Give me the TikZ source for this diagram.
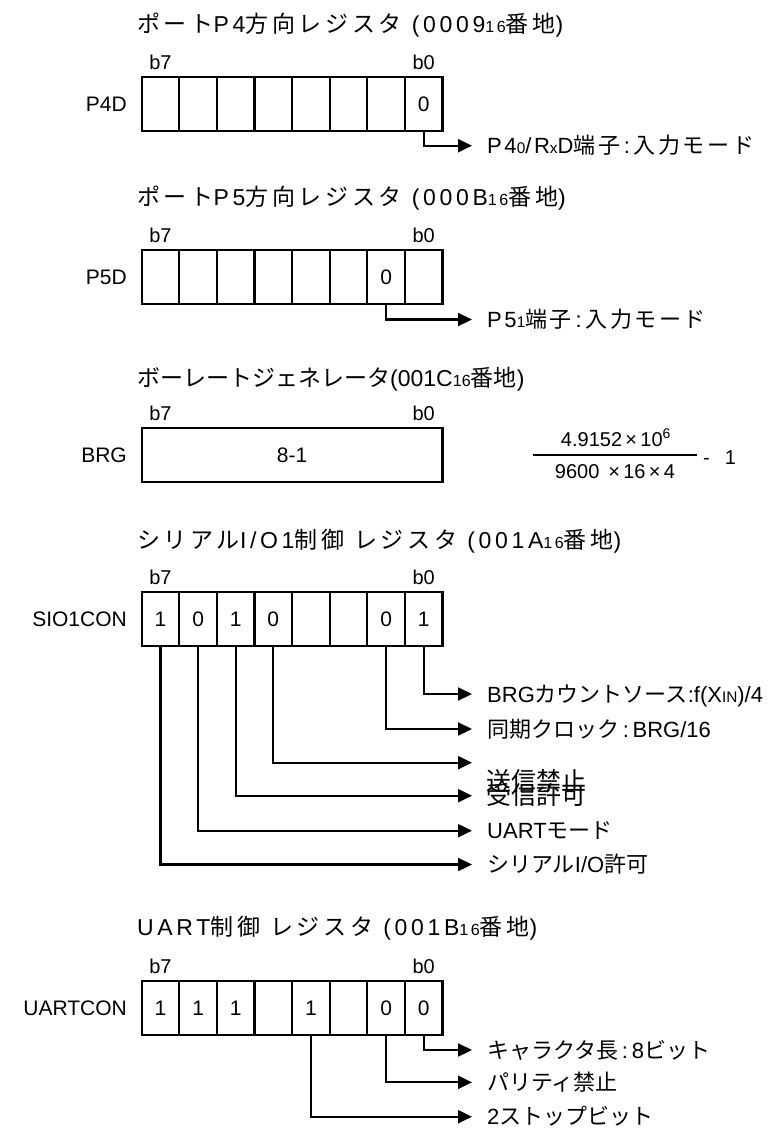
\documentclass[tikz,border=0pt]{standalone}
\usepackage{fontspec}
\setmainfont{Liberation Sans}
\newfontfamily\jpfont{Noto Sans CJK JP}
\newfontfamily\ttlfont[LetterSpace=16]{Liberation Sans}
\newfontfamily\ttljpfont[LetterSpace=16]{Noto Sans CJK JP}
\newfontfamily\widefont[LetterSpace=12]{Liberation Sans}
\newfontfamily\widejpfont[LetterSpace=12]{Noto Sans CJK JP}
\usetikzlibrary{arrows.meta}
\newcommand{\jp}[1]{{\jpfont #1}}
\newcommand{\lo}[1]{\scalebox{0.7}{#1}}
\tikzset{
  cell/.style={draw,line width=2.2pt,minimum width=37.6pt,minimum height=54pt,inner sep=0pt,outer sep=0pt,font=\fontsize{21}{24}\selectfont},
  bitno/.style={anchor=base,inner sep=0pt,font=\fontsize{20}{24}\selectfont},
  regname/.style={anchor=east,inner sep=0pt,font=\fontsize{21}{24}\selectfont},
  ttl/.style={anchor=base west,inner sep=0pt,font=\fontsize{23}{28}\selectfont\ttlfont\let\jpfont\ttljpfont},
  lbl/.style={anchor=base west,inner sep=0pt,font=\fontsize{22}{26}\selectfont},
  lblw/.style={lbl,font=\fontsize{22}{26}\selectfont\widefont\let\jpfont\widejpfont},
  frm/.style={anchor=base,inner sep=0pt,font=\fontsize{20}{24}\selectfont},
  conn/.style={line width=2.2pt,-{Triangle[length=14pt,width=13pt]}},
}
\newcommand{\regcells}[3]{%
  \foreach \v [count=\k from 0] in {#3}{%
    \pgfmathtruncatemacro{\bit}{7-\k}
    \node[cell](#1\bit)at({160.5+37.6*\k},{#2+27}){\v};
  }
  \node[bitno](#1b7)at({160.5},{#2-8}){b7};
  \node[bitno](#1b0)at({423.7},{#2-8}){b0};
}
\newcommand{\bitarrow}[5][lbl]{%
  \coordinate(#4e)at(472,#3);
  \node[#1](#4)at(487,{#3+8}){#5};
  \draw[conn](#2.south)|-(#4e);
}
\begin{document}
\begin{tikzpicture}[x=1pt,y=-1pt]
  \fill[white](0,0)rectangle(784,1128);
  \useasboundingbox(0,0)rectangle(784,1128);
  % port P4 direction
  \node[ttl](tp4)at(137,32.5){\jp{ポート}P4\jp{方向レジスタ} (0009\lo{16}\jp{番地})};
  \node[regname](p4d)at(127,104){P4D};
  \regcells{p4d}{77}{{},{},{},{},{},{},{},0}
  \bitarrow[lblw]{p4d0}{145.7}{p4o}{P4\lo{0}/R\lo{x}D\jp{端子}\,:\,\jp{入力モード}}
  % port P5 direction
  \node[ttl](tp5)at(137,205.5){\jp{ポート}P5\jp{方向レジスタ} (000B\lo{16}\jp{番地})};
  \node[regname](p5d)at(127,277){P5D};
  \regcells{p5d}{250}{{},{},{},{},{},{},0,{}}
  \bitarrow[lblw]{p5d1}{319.5}{p5o}{P5\lo{1}\jp{端子}\,:\,\jp{入力モード}}
  % baud rate generator
  \node[ttl,font=\fontsize{23}{28}\selectfont](tbrg)at(137,386.5){\jp{ボーレートジェネレータ}(001C\lo{16}\jp{番地})};
  \node[regname](brg)at(127,455){BRG};
  \node[cell,minimum width=300.8pt](brgbox)at(292.1,455){8-1};
  \node[bitno](brgb7)at(160.5,420){b7};
  \node[bitno](brgb0)at(423.7,420){b0};
  \node[frm](num)at(616,446.5){4.9152\,×\,10\textsuperscript{6}};
  \node[frm](den)at(615,478.5){9600\ \,×\,16\,×\,4};
  \coordinate(fl)at(533,455);\coordinate(fr)at(697,455);
  \draw[line width=2pt](fl)--(fr);
  \node[frm](minus)at(706.5,464){-};
  \node[frm](one)at(730.5,464){1};
  % serial I/O1 control
  \node[ttl](tsio)at(137,548.5){\jp{シリアル}I/O1\jp{制御} \jp{レジスタ} (001A\lo{16}\jp{番地})};
  \node[regname](sio)at(127,619.5){SIO1CON};
  \regcells{sio}{592}{1,0,1,0,{},{},0,1}
  \bitarrow{sio0}{694}{s0}{BRG\jp{カウントソース}:f(X\lo{IN})/4}
  \bitarrow{sio1}{729}{s1}{\jp{同期クロック}\,:\,BRG/16}
  \coordinate(s4e)at(472,762.7);
  \node[lbl,font=\fontsize{25}{30}\selectfont](s4)at(486,790.5){\jp{送信禁止}};
  \draw[conn](sio4.south)|-(s4e);
  \coordinate(s5e)at(472,795.7);
  \node[lbl,font=\fontsize{25}{30}\selectfont](s5)at(486,804.5){\jp{受信許可}};
  \draw[conn](sio5.south)|-(s5e);
  \bitarrow{sio6}{830.7}{s6}{UART\jp{モード}}
  \bitarrow{sio7}{864.5}{s7}{\jp{シリアル}I/O\jp{許可}}
  % UART control
  \node[ttl](tuart)at(137,935.5){UART\jp{制御} \jp{レジスタ} (001B\lo{16}\jp{番地})};
  \node[regname](uart)at(127,1008){UARTCON};
  \regcells{uart}{981}{1,1,1,{},1,{},0,0}
  \bitarrow{uart0}{1050}{u0}{\jp{キャラクタ長}\,:\,8\jp{ビット}}
  \bitarrow{uart1}{1082.3}{u1}{\jp{パリティ禁止}}
  \bitarrow{uart3}{1116.7}{u3}{2\jp{ストップビット}}
\end{tikzpicture}
\end{document}
